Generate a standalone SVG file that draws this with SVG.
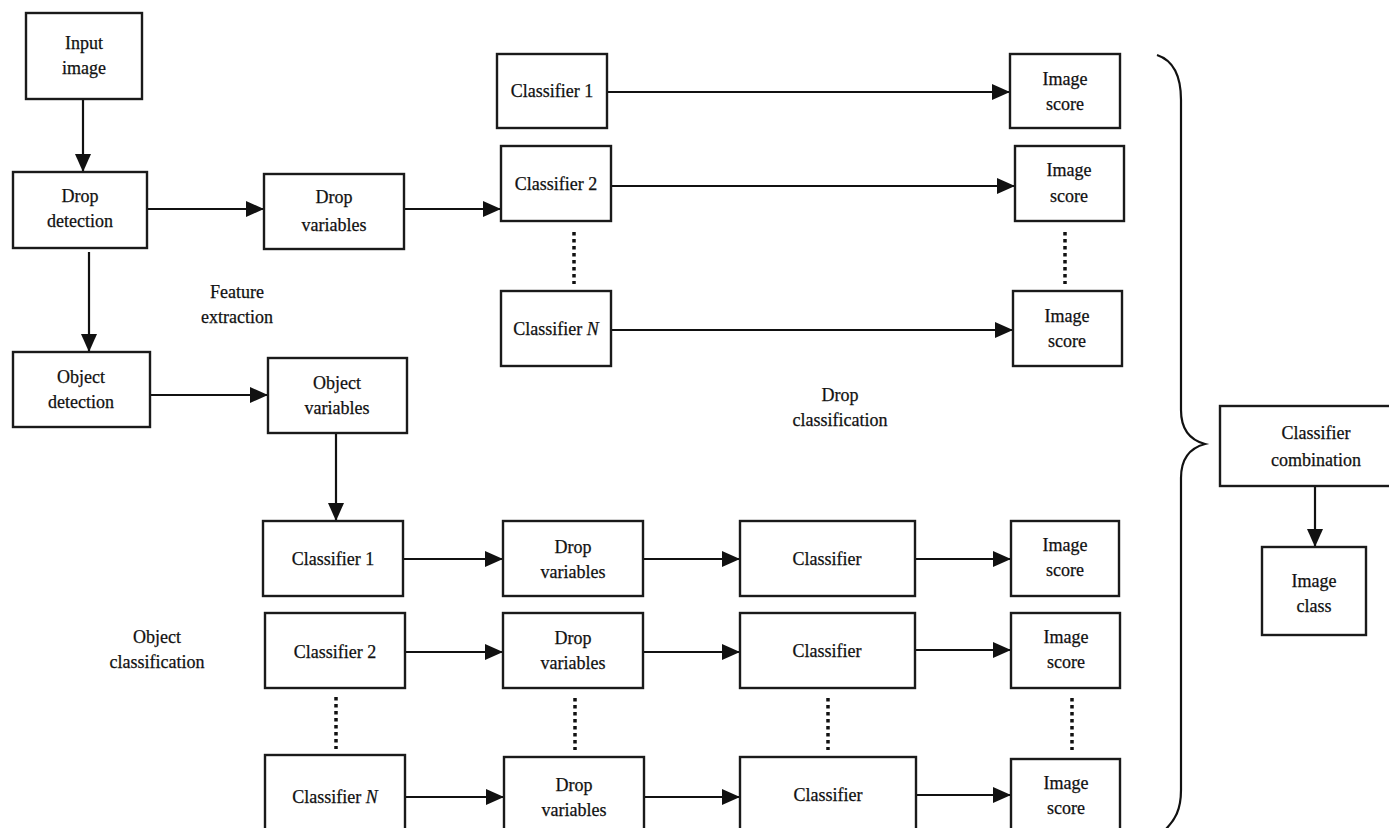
<svg xmlns="http://www.w3.org/2000/svg" width="1389" height="828" viewBox="0 0 1389 828">
<style>
rect.b{fill:#fff;stroke:#1a1a1a;stroke-width:2.4}
text{font-family:"Liberation Serif","Times New Roman",serif;font-size:18px;fill:#111;text-anchor:middle;stroke:#111;stroke-width:0.25}
.c{stroke:#111;stroke-width:2.2;fill:none}
.a{marker-end:url(#ah)}
.d{stroke:#111;stroke-width:3.5;stroke-dasharray:3.5,3.5;fill:none}
</style>
<defs>
<marker id="ah" markerUnits="userSpaceOnUse" markerWidth="18" markerHeight="16" refX="18" refY="8" orient="auto"><path d="M0,0 L18,8 L0,16 Z" fill="#111"/></marker>
</defs>
<rect width="1389" height="828" fill="#fff"/>
<g id="connectors">
<line class="c a" x1="83" y1="99" x2="83" y2="172"/>
<line class="c a" x1="147" y1="209" x2="264" y2="209"/>
<line class="c a" x1="89" y1="252" x2="89" y2="352"/>
<line class="c a" x1="150" y1="395" x2="268" y2="395"/>
<line class="c a" x1="404" y1="209" x2="501" y2="209"/>
<line class="c a" x1="607" y1="92" x2="1010" y2="92"/>
<line class="c a" x1="611" y1="186" x2="1015" y2="186"/>
<line class="c a" x1="611" y1="330" x2="1013" y2="330"/>
<line class="c a" x1="336" y1="433" x2="336" y2="521"/>
<line class="c a" x1="403" y1="559" x2="503" y2="559"/>
<line class="c a" x1="643" y1="559" x2="740" y2="559"/>
<line class="c a" x1="915" y1="559" x2="1011" y2="559"/>
<line class="c a" x1="405" y1="652" x2="503" y2="652"/>
<line class="c a" x1="643" y1="652" x2="740" y2="652"/>
<line class="c a" x1="915" y1="650" x2="1011" y2="650"/>
<line class="c a" x1="405" y1="797" x2="504" y2="797"/>
<line class="c a" x1="644" y1="797" x2="740" y2="797"/>
<line class="c a" x1="916" y1="795" x2="1011" y2="795"/>
<line class="c a" x1="1315" y1="487" x2="1315" y2="547"/>
<line class="d" x1="574" y1="232" x2="574" y2="284"/>
<line class="d" x1="1065" y1="232" x2="1065" y2="284"/>
<line class="d" x1="336" y1="697" x2="336" y2="749"/>
<line class="d" x1="575" y1="698" x2="575" y2="750"/>
<line class="d" x1="828" y1="698" x2="828" y2="750"/>
<line class="d" x1="1072" y1="698" x2="1072" y2="750"/>
<path class="c" stroke-width="2.5" d="M1157,55 C1172,60 1181,75 1181,100 L1181,410 C1181,430 1190,440 1205,444 C1190,448 1181,458 1181,478 L1181,790 C1181,810 1175,820 1165,830"/>
</g>
<g id="input-image"><rect class="b" x="26" y="13" width="116" height="86"/><text x="84" y="49">Input</text><text x="84" y="74">image</text></g>
<g id="drop-detection"><rect class="b" x="13" y="172" width="134" height="76"/><text x="80" y="202">Drop</text><text x="80" y="227">detection</text></g>
<g id="drop-variables"><rect class="b" x="264" y="174" width="140" height="75"/><text x="334" y="203">Drop</text><text x="334" y="231">variables</text></g>
<g id="object-detection"><rect class="b" x="13" y="352" width="137" height="75"/><text x="81" y="383">Object</text><text x="81" y="408">detection</text></g>
<g id="object-variables"><rect class="b" x="268" y="358" width="139" height="75"/><text x="337" y="389">Object</text><text x="337" y="414">variables</text></g>
<g id="label-feature"><text x="237" y="298">Feature</text><text x="237" y="323">extraction</text></g>
<g id="dc-classifier-1"><rect class="b" x="497" y="54" width="110" height="74"/><text x="552" y="97">Classifier 1</text></g>
<g id="dc-classifier-2"><rect class="b" x="501" y="146" width="110" height="75"/><text x="556" y="190">Classifier 2</text></g>
<g id="dc-classifier-n"><rect class="b" x="501" y="291" width="110" height="75"/><text x="556" y="335">Classifier <tspan font-style="italic">N</tspan></text></g>
<g id="dc-score-1"><rect class="b" x="1010" y="54" width="110" height="74"/><text x="1065" y="85">Image</text><text x="1065" y="110">score</text></g>
<g id="dc-score-2"><rect class="b" x="1015" y="146" width="109" height="75"/><text x="1069" y="176">Image</text><text x="1069" y="202">score</text></g>
<g id="dc-score-n"><rect class="b" x="1013" y="291" width="109" height="75"/><text x="1067" y="322">Image</text><text x="1067" y="347">score</text></g>
<g id="label-drop-class"><text x="840" y="401">Drop</text><text x="840" y="426">classification</text></g>
<g id="oc-classifier-1"><rect class="b" x="263" y="521" width="140" height="75"/><text x="333" y="565">Classifier 1</text></g>
<g id="oc-classifier-2"><rect class="b" x="265" y="613" width="140" height="75"/><text x="335" y="658">Classifier 2</text></g>
<g id="oc-classifier-n"><rect class="b" x="265" y="755" width="140" height="80"/><text x="335" y="803">Classifier <tspan font-style="italic">N</tspan></text></g>
<g id="oc-dropvar-1"><rect class="b" x="503" y="521" width="140" height="75"/><text x="573" y="553">Drop</text><text x="573" y="578">variables</text></g>
<g id="oc-dropvar-2"><rect class="b" x="503" y="613" width="140" height="75"/><text x="573" y="644">Drop</text><text x="573" y="669">variables</text></g>
<g id="oc-dropvar-n"><rect class="b" x="504" y="757" width="140" height="80"/><text x="574" y="791">Drop</text><text x="574" y="816">variables</text></g>
<g id="oc-classifier-a"><rect class="b" x="740" y="521" width="175" height="75"/><text x="827" y="565">Classifier</text></g>
<g id="oc-classifier-b"><rect class="b" x="740" y="613" width="175" height="75"/><text x="827" y="657">Classifier</text></g>
<g id="oc-classifier-c"><rect class="b" x="740" y="757" width="176" height="80"/><text x="828" y="801">Classifier</text></g>
<g id="oc-score-1"><rect class="b" x="1011" y="521" width="108" height="75"/><text x="1065" y="551">Image</text><text x="1065" y="576">score</text></g>
<g id="oc-score-2"><rect class="b" x="1011" y="613" width="109" height="75"/><text x="1066" y="643">Image</text><text x="1066" y="668">score</text></g>
<g id="oc-score-n"><rect class="b" x="1011" y="759" width="109" height="80"/><text x="1066" y="789">Image</text><text x="1066" y="814">score</text></g>
<g id="label-object-class"><text x="157" y="643">Object</text><text x="157" y="668">classification</text></g>
<g id="classifier-combination"><rect class="b" x="1220" y="406" width="172" height="80"/><text x="1316" y="439">Classifier</text><text x="1316" y="466">combination</text></g>
<g id="image-class"><rect class="b" x="1262" y="547" width="104" height="88"/><text x="1314" y="587">Image</text><text x="1314" y="612">class</text></g>
</svg>
